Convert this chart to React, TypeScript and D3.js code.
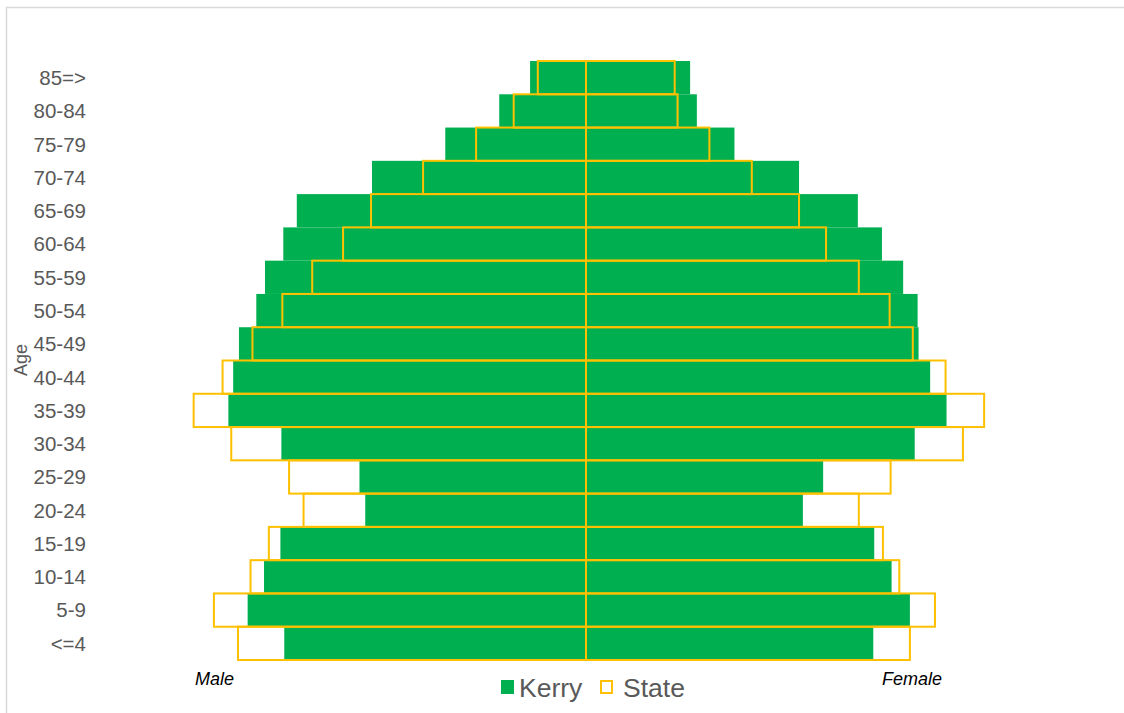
import React, { useEffect, useRef } from 'react';
import * as d3 from 'd3';

// age groups, youngest first
const ages = ['<=4', '5-9', '10-14', '15-19', '20-24', '25-29', '30-34', '35-39', '40-44',
  '45-49', '50-54', '55-59', '60-64', '65-69', '70-74', '75-79', '80-84', '85=>'];

// % of total population
const kerryMale = [3.13, 3.51, 3.34, 3.17, 2.29, 2.35, 3.16, 3.71, 3.66,
  3.60, 3.42, 3.33, 3.14, 3.00, 2.22, 1.46, 0.90, 0.58];
const kerryFemale = [2.98, 3.36, 3.17, 2.99, 2.25, 2.46, 3.41, 3.74, 3.57,
  3.45, 3.44, 3.29, 3.07, 2.82, 2.21, 1.54, 1.15, 1.08];
const stateMale = [3.61, 3.86, 3.48, 3.29, 2.93, 3.08, 3.68, 4.07, 3.77,
  3.46, 3.15, 2.84, 2.52, 2.23, 1.69, 1.14, 0.75, 0.50];
const stateFemale = [3.36, 3.62, 3.25, 3.08, 2.83, 3.16, 3.91, 4.13, 3.73,
  3.39, 3.15, 2.83, 2.49, 2.21, 1.72, 1.28, 0.95, 0.92];

const GREEN = '#00B050';
const YELLOW = '#FFC000';
const TEXT = '#595959';
const FONT = 'Liberation Sans, Arial, sans-serif';

const App: React.FC = () => {
  const svgRef = useRef<SVGSVGElement>(null);

  useEffect(() => {
    if (!svgRef.current) return;
    const width = 1124;
    const height = 713;

    const svg = d3.select(svgRef.current);
    svg.selectAll('*').remove();

    // chart border
    svg.append('rect')
      .attr('x', 6.5).attr('y', 7.5)
      .attr('width', width + 20).attr('height', height + 20)
      .attr('fill', '#fff')
      .attr('stroke', '#d9d9d9')
      .attr('stroke-width', 1.5);

    const x = d3.scaleLinear().domain([-5, 5]).range([104, 1068]);
    const y = d3.scaleBand<string>()
      .domain([...ages].reverse())
      .range([61, 660])
      .padding(0);

    const rows = ages.map((a, i) => ({
      age: a,
      km: kerryMale[i], kf: kerryFemale[i],
      sm: stateMale[i], sf: stateFemale[i],
    }));

    // Kerry (filled)
    const g = svg.append('g');
    g.selectAll('rect.km')
      .data(rows)
      .join('rect')
      .attr('class', 'km')
      .attr('x', d => x(-d.km))
      .attr('y', d => y(d.age)!)
      .attr('width', d => x(0) - x(-d.km))
      .attr('height', y.bandwidth())
      .attr('fill', GREEN);

    g.selectAll('rect.kf')
      .data(rows)
      .join('rect')
      .attr('class', 'kf')
      .attr('x', x(0))
      .attr('y', d => y(d.age)!)
      .attr('width', d => x(d.kf) - x(0))
      .attr('height', y.bandwidth())
      .attr('fill', GREEN);

    // State (outline only)
    g.selectAll('rect.sm')
      .data(rows)
      .join('rect')
      .attr('class', 'sm')
      .attr('x', d => x(-d.sm))
      .attr('y', d => y(d.age)!)
      .attr('width', d => x(0) - x(-d.sm))
      .attr('height', y.bandwidth())
      .attr('fill', 'none')
      .attr('stroke', YELLOW)
      .attr('stroke-width', 2);

    g.selectAll('rect.sf')
      .data(rows)
      .join('rect')
      .attr('class', 'sf')
      .attr('x', x(0))
      .attr('y', d => y(d.age)!)
      .attr('width', d => x(d.sf) - x(0))
      .attr('height', y.bandwidth())
      .attr('fill', 'none')
      .attr('stroke', YELLOW)
      .attr('stroke-width', 2);

    // age labels
    svg.append('g')
      .selectAll('text')
      .data(ages)
      .join('text')
      .attr('x', 86)
      .attr('y', d => y(d)! + y.bandwidth() / 2)
      .attr('dy', '0.36em')
      .attr('text-anchor', 'end')
      .attr('font-family', FONT)
      .attr('font-size', 20.5)
      .attr('fill', TEXT)
      .text(d => d);

    // axis title
    svg.append('text')
      .attr('transform', 'translate(27,360) rotate(-90)')
      .attr('text-anchor', 'middle')
      .attr('font-family', FONT)
      .attr('font-size', 18)
      .attr('fill', TEXT)
      .text('Age');

    // Male / Female captions
    const caption = (t: string, cx: number) =>
      svg.append('text')
        .attr('x', cx).attr('y', 685)
        .attr('font-family', FONT)
        .attr('font-style', 'italic')
        .attr('font-size', 18)
        .attr('fill', '#000')
        .text(t);
    caption('Male', 195);
    caption('Female', 882);

    // legend
    const lg = svg.append('g').attr('font-family', FONT)
      .attr('font-size', 26.5).attr('fill', TEXT);
    lg.append('rect').attr('x', 501).attr('y', 680).attr('width', 13).attr('height', 14).attr('fill', GREEN);
    lg.append('text').attr('x', 519).attr('y', 697).text('Kerry');
    lg.append('rect').attr('x', 601).attr('y', 681).attr('width', 11).attr('height', 12)
      .attr('fill', 'none').attr('stroke', YELLOW).attr('stroke-width', 2);
    lg.append('text').attr('x', 623).attr('y', 697).text('State');
  }, []);

  return (
    <svg
      ref={svgRef}
      width={1124}
      height={713}
      style={{ position: 'absolute', left: 0, top: 0, display: 'block', background: '#fff' }}
    />
  );
};

export default App;
